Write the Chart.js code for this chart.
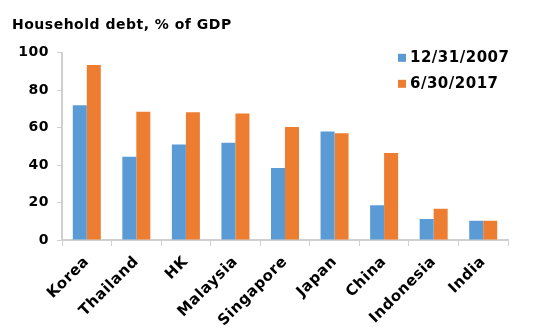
<!DOCTYPE html>
<html>
<head>
<meta charset="utf-8">
<script src="https://cdn.jsdelivr.net/npm/chart.js@4"></script>
<style>
  html, body { margin: 0; padding: 0; background: #fff; }
  #wrap { width: 550px; height: 335px; }
</style>
</head>
<body>
<div id="wrap"><canvas id="myChart"></canvas></div>
<script>
// categories + series
var countries = ['Korea', 'Thailand', 'HK', 'Malaysia', 'Singapore', 'Japan', 'China', 'Indonesia', 'India'];
var debt2007 = [72, 44.5, 51, 52, 38.5, 58, 18.5, 11.2, 10.3];
var debt2017 = [93.5, 68.5, 68.2, 67.6, 60.4, 57, 46.5, 16.7, 10.3];
var seriesNames = ['12/31/2007', '6/30/2017'];
var yTicks = [0, 20, 40, 60, 80, 100];

var blue = '#5B9BD5';
var orange = '#ED7D31';
var axisGrey = '#d0d0d0';
var font = "'DejaVu Sans', Verdana, sans-serif";

// the original font is a bit wider, so open up the spacing a little
var wideText = {
  id: 'wideText',
  beforeUpdate: function(chart) { chart.ctx.letterSpacing = '0.5px'; },
  beforeDraw: function(chart) { chart.ctx.letterSpacing = '0.5px'; }
};

// legend sits inside the plot, top right
var insideLegend = {
  id: 'insideLegend',
  afterDraw: function(chart) {
    var ctx = chart.ctx;
    var area = chart.chartArea;
    var x = area.right - 110;
    var y = area.top + 5;
    ctx.save();
    ctx.font = 'bold 15px ' + font;
    ctx.textBaseline = 'middle';
    ctx.textAlign = 'left';
    chart.data.datasets.forEach(function(ds, i) {
      var cy = y + i * 26;
      ctx.fillStyle = ds.backgroundColor;
      ctx.fillRect(x, cy - 4, 8, 8);
      ctx.fillStyle = '#000';
      ctx.fillText(ds.label, x + 12, cy);
    });
    ctx.restore();
  }
};

const data = {
  labels: countries,
  datasets: [{
    label: seriesNames[0],
    data: debt2007,
    backgroundColor: blue
  },
  {
    label: seriesNames[1],
    data: debt2017,
    backgroundColor: orange
  }]
};

const config = {
  type: 'bar',
  data: data,
  plugins: [wideText, insideLegend],
  options: {
    responsive: true,
    maintainAspectRatio: false,
    animation: false,
    layout: {
      padding: { left: 12, right: 42, top: 17, bottom: 0 }
    },
    datasets: {
      bar: {
        categoryPercentage: 0.565,
        barPercentage: 1.0
      }
    },
    plugins: {
      legend: { display: false },
      tooltip: { enabled: false },
      title: {
        display: true,
        text: 'Household debt, % of GDP',
        align: 'start',
        color: '#000',
        font: { family: font, size: 14, weight: 'bold' },
        padding: { top: 0, bottom: 19 }
      }
    },
    scales: {
      x: {
        afterFit: function(scale) { scale.height = 95; },
        grid: {
          drawOnChartArea: false,
          color: axisGrey,
          tickLength: 6,
          offset: true
        },
        border: { color: axisGrey, width: 2 },
        ticks: {
          color: '#000',
          font: { family: font, size: 15, weight: 'bold' },
          minRotation: 45,
          maxRotation: 45,
          padding: 7
        }
      },
      y: {
        min: 0,
        max: 100,
        afterFit: function(scale) { scale.width = 50; },
        afterBuildTicks: function(scale) {
          scale.ticks = yTicks.map(function(v) { return { value: v }; });
        },
        grid: {
          drawOnChartArea: false,
          color: axisGrey,
          tickLength: 5
        },
        border: { color: axisGrey, width: 2 },
        ticks: {
          color: '#000',
          font: { family: font, size: 14, weight: 'bold' },
          padding: 8
        }
      }
    }
  }
};

const myChart = new Chart(document.getElementById('myChart'), config);
</script>
</body>
</html>
